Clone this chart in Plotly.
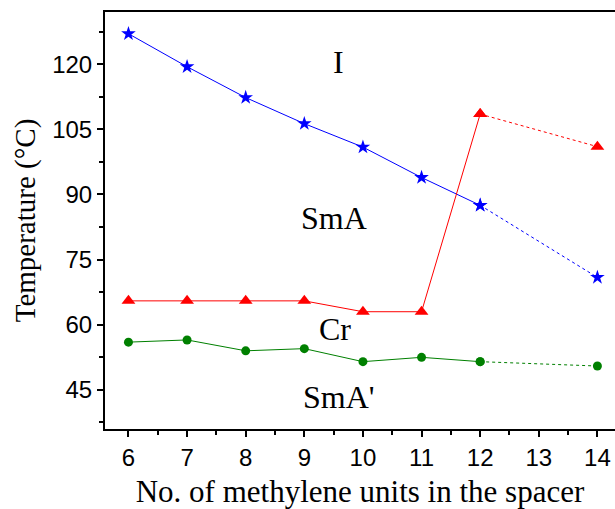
import plotly.graph_objects as go

# Spacer length (number of methylene units)
spacer = [6, 7, 8, 9, 10, 11, 12, 14]

# Transition temperatures (°C)
t_iso = [127.0, 119.4, 112.3, 106.3, 100.9, 93.9, 87.5, 70.9]      # I / SmA
t_cr = [65.5, 65.5, 65.5, 65.5, 63.0, 63.0, 108.5, 101.0]          # SmA / Cr
t_sma2 = [56.0, 56.5, 54.0, 54.5, 51.5, 52.5, 51.5, 50.5]           # Cr / SmA'

x_ticks = [6, 7, 8, 9, 10, 11, 12, 13, 14]
y_ticks = [45, 60, 75, 90, 105, 120]

# Phase labels: (text, x, y)
phase_labels = [("I", 9.58, 120.5), ("SmA", 9.5, 84.5), ("Cr", 9.53, 59.0), ("SmA'", 9.6, 43.4)]

series = [
    (t_iso, "blue", "star", 11),
    (t_cr, "red", "triangle-up", 12),
    (t_sma2, "green", "circle", 9),
]

fig = go.Figure()
for vals, color, symbol, msize in series:
    # solid segment up to n = 12
    fig.add_trace(go.Scatter(
        x=spacer[:7], y=vals[:7], mode="lines+markers",
        line=dict(color=color, width=1),
        marker=dict(symbol=symbol, size=msize, color=color),
        showlegend=False,
    ))
    # dotted segment from n = 12 to n = 14
    fig.add_trace(go.Scatter(
        x=spacer[6:], y=vals[6:], mode="lines+markers",
        line=dict(color=color, width=1, dash="dot"),
        marker=dict(symbol=symbol, size=msize, color=color),
        showlegend=False,
    ))

for text, xv, yv in phase_labels:
    fig.add_annotation(
        x=xv, y=yv, text=text, showarrow=False,
        font=dict(family="Liberation Serif", size=32, color="black"),
    )

axis_common = dict(
    showline=True, linecolor="black", linewidth=2,
    ticks="outside", ticklen=6, tickwidth=1.5, tickcolor="black",
    showgrid=False, zeroline=False,
    tickfont=dict(family="Liberation Sans", size=24, color="black"),
)

fig.update_xaxes(
    **axis_common,
    range=[5.6, 14.3], tickvals=x_ticks, mirror=True,
    minor=dict(dtick=0.5, ticks="outside", ticklen=4, tickcolor="black", tickwidth=1.5),
    title_text="No. of methylene units in the spacer", title_standoff=12,
    title_font=dict(family="Liberation Serif", size=31, color="black"),
)
fig.update_yaxes(
    **axis_common,
    range=[36, 132], tickvals=y_ticks,
    minor=dict(tickvals=[37.5, 52.5, 67.5, 82.5, 97.5, 112.5, 127.5],
               ticks="outside", ticklen=4, tickcolor="black", tickwidth=1.5),
    title_text="Temperature (°C)", title_standoff=8,
    title_font=dict(family="Liberation Serif", size=29, color="black"),
)

fig.update_layout(
    width=615, height=509,
    margin=dict(l=105, r=0, t=12, b=80),
    plot_bgcolor="white", paper_bgcolor="white",
)

fig.write_html("out.html")
